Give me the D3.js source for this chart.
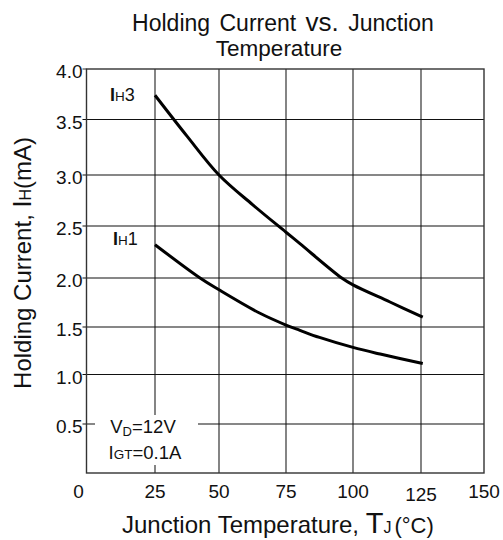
<!DOCTYPE html>
<html>
<head>
<meta charset="utf-8">
<script src="https://cdn.jsdelivr.net/npm/d3@7"></script>
<style>
  body { margin: 0; background: #fff; }
  text { font-family: "Liberation Sans", Arial, sans-serif; fill: #111; }
</style>
</head>
<body>
<div id="chart"></div>
<script>
// values
var xTicks = [0, 25, 50, 75, 100, 125, 150];
var yTicks = [0, 0.5, 1.0, 1.5, 2.0, 2.5, 3.0, 3.5, 4.0];
var ih3Temp = [25, 37.5, 50, 62.5, 75, 80.2, 95.8, 100, 113.6, 125.7];
var ih3Curr = [3.74, 3.35, 3.0, 2.71, 2.44, 2.33, 2.0, 1.93, 1.755, 1.60];
var ih1Temp = [25, 42.6, 50, 65.3, 75, 80.2, 87.5, 100, 110, 125.7];
var ih1Curr = [2.32, 2.0, 1.88, 1.64, 1.52, 1.465, 1.39, 1.285, 1.215, 1.115];

var svg = d3.select("#chart")
	.append("svg")
	.attr("width", 503)
	.attr("height", 540);

// the printed grid is not evenly spaced, so the scales follow the gridlines
var x = d3.scaleLinear()
	.domain(xTicks)
	.range([86.5, 155, 219, 286, 353, 421, 484]);
var y = d3.scaleLinear()
	.domain(yTicks)
	.range([473, 424, 374.5, 327, 278, 226, 175, 119.5, 69]);

var plotL = x(0), plotR = x(150), plotT = y(4), plotB = y(0);

// grid
svg.append("g")
	.selectAll("line")
	.data(xTicks.slice(1, -1))
	.join("line")
	.attr("x1", d => x(d)).attr("x2", d => x(d))
	.attr("y1", plotT).attr("y2", plotB)
	.attr("stroke", "#666")
	.attr("stroke-width", 1.6);

svg.append("g")
	.selectAll("line")
	.data(yTicks.slice(1, -1))
	.join("line")
	.attr("x1", plotL - 4).attr("x2", plotR)
	.attr("y1", d => y(d)).attr("y2", d => y(d))
	.attr("stroke", "#111")
	.attr("stroke-width", 1.2);

// frame
svg.append("rect")
	.attr("x", plotL).attr("y", plotT)
	.attr("width", plotR - plotL).attr("height", plotB - plotT)
	.attr("fill", "none")
	.attr("stroke", "#333")
	.attr("stroke-width", 1.4);
svg.append("line")
	.attr("x1", plotL - 4).attr("x2", plotL)
	.attr("y1", y(4)).attr("y2", y(4))
	.attr("stroke", "#333");

// tick labels
svg.append("g")
	.selectAll("text")
	.data(yTicks.slice(1))
	.join("text")
	.attr("x", plotL - 4)
	.attr("y", d => y(d) + 9)
	.attr("text-anchor", "end")
	.attr("font-size", 19)
	.text(d => d.toFixed(1));

svg.append("g")
	.selectAll("text")
	.data(xTicks)
	.join("text")
	.attr("x", d => d === 0 ? x(d) - 8 : x(d))
	.attr("y", d => d === 125 ? 501 : 498)
	.attr("text-anchor", "middle")
	.attr("font-size", 19)
	.text(d => d);

// curves
var line = d3.line()
	.x(d => x(d[0]))
	.y(d => y(d[1]))
	.curve(d3.curveCatmullRom.alpha(0.5));

svg.append("path")
	.datum(d3.zip(ih3Temp, ih3Curr))
	.attr("d", line)
	.attr("fill", "none")
	.attr("stroke", "#000")
	.attr("stroke-width", 3);

svg.append("path")
	.datum(d3.zip(ih1Temp, ih1Curr))
	.attr("d", line)
	.attr("fill", "none")
	.attr("stroke", "#000")
	.attr("stroke-width", 3);

// curve labels
function subLabel(px, py, main, sub, size) {
	var t = svg.append("text").attr("x", px).attr("y", py).attr("font-size", size);
	t.append("tspan").text(main.charAt(0)).attr("font-weight", "bold");
	t.append("tspan").text(sub).attr("font-size", size * 0.75);
	t.append("tspan").text(main.slice(1));
	return t;
}
subLabel(110, 101, "I3", "H", 18);
subLabel(113, 245, "I1", "H", 18);

// conditions box
svg.append("rect")
	.attr("x", 95).attr("y", 415)
	.attr("width", 103).attr("height", 50)
	.attr("fill", "#fff");
var vd = svg.append("text").attr("x", 143).attr("y", 433)
	.attr("text-anchor", "middle").attr("font-size", 18.5);
vd.append("tspan").text("V");
vd.append("tspan").text("D").attr("font-size", 13).attr("dy", 3);
vd.append("tspan").text("=12V").attr("dy", -3);
var igt = svg.append("text").attr("x", 145).attr("y", 459)
	.attr("text-anchor", "middle").attr("font-size", 18.5);
igt.append("tspan").text("I");
igt.append("tspan").text("GT").attr("font-size", 13.5);
igt.append("tspan").text("=0.1A");

// title
var t1 = svg.append("text")
	.attr("x", 283).attr("y", 31)
	.attr("text-anchor", "middle")
	.attr("font-size", 23)
	.attr("word-spacing", 3);
t1.append("tspan").text("Holding Current ");
t1.append("tspan").text("vs.").attr("font-size", 26);
t1.append("tspan").text(" Junction");
svg.append("text")
	.attr("x", 279).attr("y", 56)
	.attr("text-anchor", "middle")
	.attr("font-size", 22.5)
	.text("Temperature");

// axis titles
var xt = svg.append("text")
	.attr("x", 122).attr("y", 533)
	.attr("font-size", 24);
xt.append("tspan").text("Junction Temperature, ");
xt.append("tspan").text("T").attr("font-size", 29);
xt.append("tspan").text("J").attr("font-size", 16);
xt.append("tspan").text("(°C)").attr("dx", 3).attr("font-size", 22);

var yt = svg.append("text")
	.attr("transform", "translate(31,263) rotate(-90)")
	.attr("text-anchor", "middle")
	.attr("font-size", 24);
yt.append("tspan").text("Holding Current,  ");
yt.append("tspan").text("I").attr("font-size", 25);
yt.append("tspan").text("H").attr("font-size", 16);
yt.append("tspan").text("(mA)");
</script>
</body>
</html>
